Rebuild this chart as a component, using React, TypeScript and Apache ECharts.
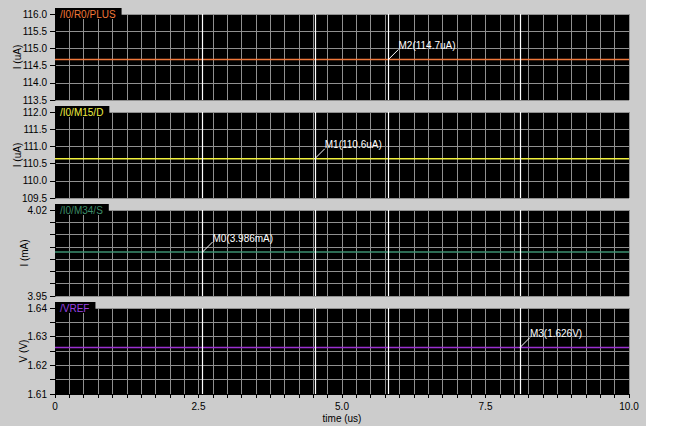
import React, { useEffect, useRef } from 'react';
import * as echarts from 'echarts';

// ---- data ----
const timeRange = [0, 10];
const panelTitles = ['/I0/R0/PLUS', '/I0/M15/D', '/I0/M34/S', '/VREF'];
const panelValues = [114.68, 110.64, 3.9858, 1.6262];
const yMins = [113.5, 109.5, 3.95, 1.61];
const yMaxs = [116.0, 112.0, 4.02, 1.64];
const yIntervals = [0.5, 0.5, 0.01, 0.005];
const yNames = ['I (uA)', 'I (uA)', 'I (mA)', 'V (V)'];
const markerTimes = [2.57, 4.525, 5.81, 8.1];
const markerLabels = ['M2(114.7uA)', 'M1(110.6uA)', 'M0(3.986mA)', 'M3(1.626V)'];
const markerLabelTimes = [5.81, 4.525, 2.57, 8.1];
const xTickLabels = ['0', '2.5', '5.0', '7.5', '10.0'];
const xName = 'time (us)';

// ---- style ----
const W = 683;
const H = 426;
const FONT = 'Liberation Sans, Arial, sans-serif';
const traceColors = ['#f0783c', '#f0f03c', '#3c9070', '#9a30d0'];
const titleColors = ['#f07838', '#f0f040', '#3c8c68', '#9a40e0'];
const PLOT_LEFT = 55;
const PLOT_RIGHT = 629;
const PLOT_TOP = 14;
const PANEL_H = 86;
const PANEL_STEP = 98;
const nameGaps = [33, 33, 26, 27];

function yFormatter(i: number) {
  return (v: number) => {
    if (i < 2) return v.toFixed(1);
    if (i === 2) {
      if (Math.abs(v - yMins[2]) < 1e-6 || Math.abs(v - yMaxs[2]) < 1e-6) return v.toFixed(2);
      return '';
    }
    if (Math.abs(v * 100 - Math.round(v * 100)) < 1e-6) return v.toFixed(2);
    return '';
  };
}

export default function App() {
  const ref = useRef<HTMLDivElement>(null);
  useEffect(() => {
    if (!ref.current) return;
    const chart = echarts.init(ref.current, null, { renderer: 'svg' });
    const grids: any[] = [];
    const xAxes: any[] = [];
    const yAxes: any[] = [];
    const series: any[] = [];
    const graphics: any[] = [
      { type: 'rect', left: 0, top: 0, z: -10, shape: { width: 646, height: H }, style: { fill: '#cccccc' } },
    ];
    for (let i = 0; i < 4; i++) {
      const top = PLOT_TOP + i * PANEL_STEP;
      const isBottom = i === 3;
      grids.push({
        left: PLOT_LEFT,
        right: W - PLOT_RIGHT,
        top,
        height: PANEL_H,
        show: true,
        backgroundColor: '#000',
        borderWidth: 0,
      });
      xAxes.push({
        type: 'value',
        gridIndex: i,
        min: timeRange[0],
        max: timeRange[1],
        interval: 0.25,
        axisLine: { show: isBottom, lineStyle: { color: '#000' } },
        axisTick: { show: isBottom, length: 4, lineStyle: { color: '#000' } },
        axisLabel: {
          show: isBottom,
          color: '#000',
          fontFamily: FONT,
          fontSize: 10,
          margin: 7,
          showMaxLabel: true,
          showMinLabel: true,
          formatter: (v: number) => {
            const k = Math.round(v / 2.5);
            if (Math.abs(v - k * 2.5) < 1e-6) return xTickLabels[k] ?? '';
            return '';
          },
        },
        splitLine: { show: true, lineStyle: { color: '#909090', width: 1 } },
        name: isBottom ? xName : '',
        nameLocation: 'middle',
        nameGap: 19,
        nameMoveOverlap: false,
        nameTextStyle: { color: '#000', fontFamily: FONT, fontSize: 10 },
      });
      yAxes.push({
        type: 'value',
        gridIndex: i,
        min: yMins[i],
        max: yMaxs[i],
        interval: yIntervals[i],
        axisLine: { show: true, lineStyle: { color: '#000' } },
        axisTick: { show: true, length: 5, lineStyle: { color: '#000' } },
        axisLabel: {
          color: '#000',
          fontFamily: FONT,
          fontSize: 10,
          margin: 8,
          showMaxLabel: true,
          showMinLabel: true,
          formatter: yFormatter(i),
        },
        splitLine: { show: true, lineStyle: { color: '#909090', width: 1 } },
        name: yNames[i],
        nameLocation: 'middle',
        nameGap: nameGaps[i],
        nameMoveOverlap: false,
        nameRotate: 90,
        nameTextStyle: { color: '#000', fontFamily: FONT, fontSize: 10 },
      });
      series.push({
        type: 'line',
        xAxisIndex: i,
        yAxisIndex: i,
        data: [
          [timeRange[0], panelValues[i]],
          [timeRange[1], panelValues[i]],
        ],
        showSymbol: false,
        symbol: 'none',
        lineStyle: { color: traceColors[i], width: 1.5 },
        z: 3,
        markLine: {
          silent: true,
          symbol: ['none', 'none'],
          label: { show: false },
          lineStyle: { color: '#ffffff', width: 1.2, type: 'solid' },
          data: markerTimes.map((t) => ({ xAxis: t })),
        },
      });
      series.push({
        type: 'custom',
        xAxisIndex: i,
        yAxisIndex: i,
        z: 5,
        data: [[markerLabelTimes[i], panelValues[i]]],
        renderItem: (params: any, api: any) => {
          const p = api.coord([api.value(0), api.value(1)]);
          return {
            type: 'group',
            children: [
              {
                type: 'line',
                shape: { x1: p[0], y1: p[1], x2: p[0] + 10, y2: p[1] - 10 },
                style: { stroke: '#fff', lineWidth: 1 },
              },
              {
                type: 'text',
                x: p[0] + 10,
                y: p[1] - 14,
                style: {
                  text: markerLabels[i],
                  fill: '#fff',
                  fontFamily: FONT,
                  fontSize: 10,
                  align: 'left',
                  verticalAlign: 'middle',
                },
              },
            ],
          };
        },
      });
      graphics.push({
        type: 'text',
        left: PLOT_LEFT,
        top: top - 6,
        z: 20,
        style: {
          text: panelTitles[i],
          fill: titleColors[i],
          fontFamily: FONT,
          fontSize: 10,
          backgroundColor: '#000',
          padding: [1, 6, 0, 5],
        },
      });
    }
    chart.setOption({
      animation: false,
      backgroundColor: '#ffffff',
      grid: grids,
      xAxis: xAxes,
      yAxis: yAxes,
      series,
      graphic: graphics,
    });
    return () => chart.dispose();
  }, []);
  return (
    <div
      ref={ref}
      style={{ position: 'absolute', left: 0, top: 0, width: W, height: H }}
    />
  );
}
